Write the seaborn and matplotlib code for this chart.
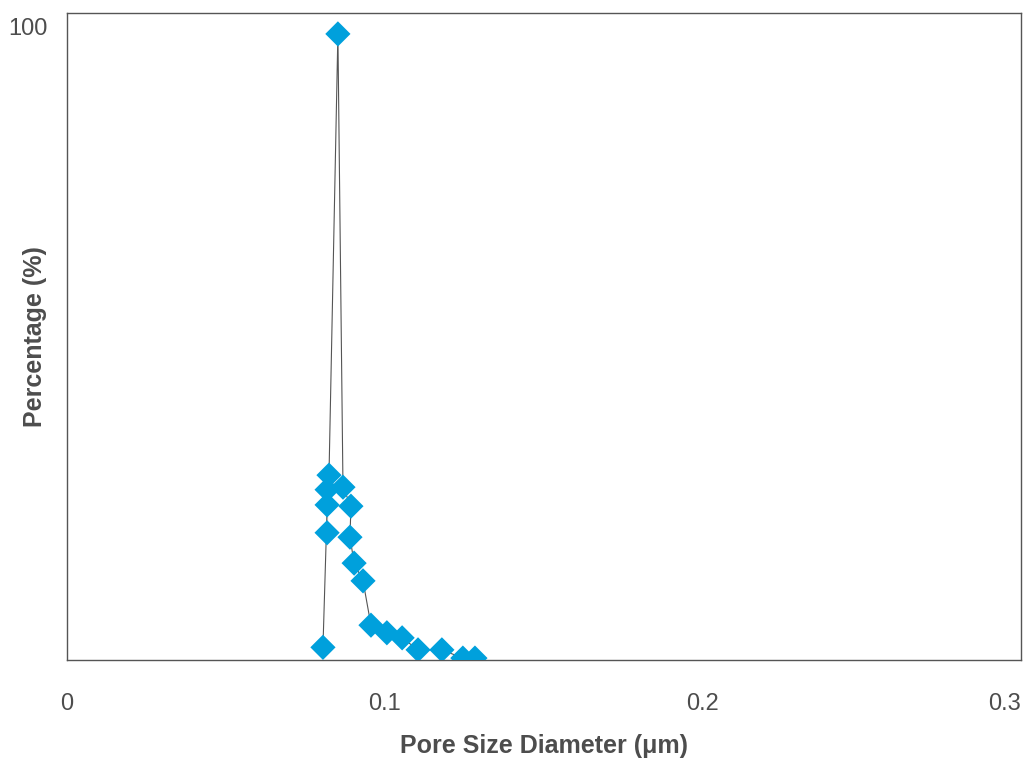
import numpy as np
import pandas as pd
import matplotlib
matplotlib.use('Agg')
import matplotlib.pyplot as plt
import seaborn as sns

# pore size distribution, in drawing order (as connected by the line)
pore_diameter = [0.0805, 0.0818, 0.0818, 0.0818, 0.0824, 0.0852, 0.0868,
                 0.0893, 0.0890, 0.0903, 0.0931, 0.0956, 0.1006, 0.1054,
                 0.1104, 0.1179, 0.1245, 0.1283]
percentage = [2.0, 20.1, 24.5, 26.9, 29.2, 98.9, 27.3, 24.3, 19.4, 15.3,
              12.5, 5.5, 4.3, 3.5, 1.6, 1.6, 0.3, 0.3]
x_ticks = [0, 0.1, 0.2, 0.3]
x_tick_labels = ['0', '0.1', '0.2', '0.3']
y_ticks = [100]

df = pd.DataFrame({'diameter': pore_diameter, 'pct': percentage})

sns.set_theme(style='white')
plt.rcParams['font.family'] = ['Liberation Sans', 'DejaVu Sans']

text_color = '#4d4d4d'
marker_color = '#00a0dc'

fig = plt.figure(figsize=(10.24, 7.58), dpi=100)
ax = fig.add_axes([0.0654, 0.1293, 0.9316, 0.8535])

sns.lineplot(data=df, x='diameter', y='pct', sort=False, color='#555555',
             linewidth=0.8, ax=ax, zorder=2)
sns.scatterplot(data=df, x='diameter', y='pct', marker='D', s=165,
                color=marker_color, edgecolor='none', ax=ax, zorder=3)

ax.set_xlim(0, 0.3)
ax.set_ylim(0, 102.2)
ax.set_xticks(x_ticks)
ax.set_xticklabels(x_tick_labels)
ax.set_yticks(y_ticks)
ax.tick_params(axis='both', length=0, labelsize=17, labelcolor=text_color)
ax.tick_params(axis='x', pad=24)
ax.tick_params(axis='y', pad=14)
ax.get_xticklabels()[-1].set_horizontalalignment('right')
ax.get_xticklabels()[0].set_x(0.003)

ax.set_xlabel('Pore Size Diameter (μm)', fontsize=18, fontweight='bold',
              color=text_color, va='center')
ax.set_ylabel('Percentage (%)', fontsize=18, fontweight='bold',
              color=text_color, va='center')
ax.xaxis.set_label_coords(0.5, -0.133)
ax.yaxis.set_label_coords(-0.034, 0.5)

for spine in ax.spines.values():
    spine.set_color('#555555')
    spine.set_linewidth(1.0)

plt.savefig('out.png', dpi=100)
plt.close()
